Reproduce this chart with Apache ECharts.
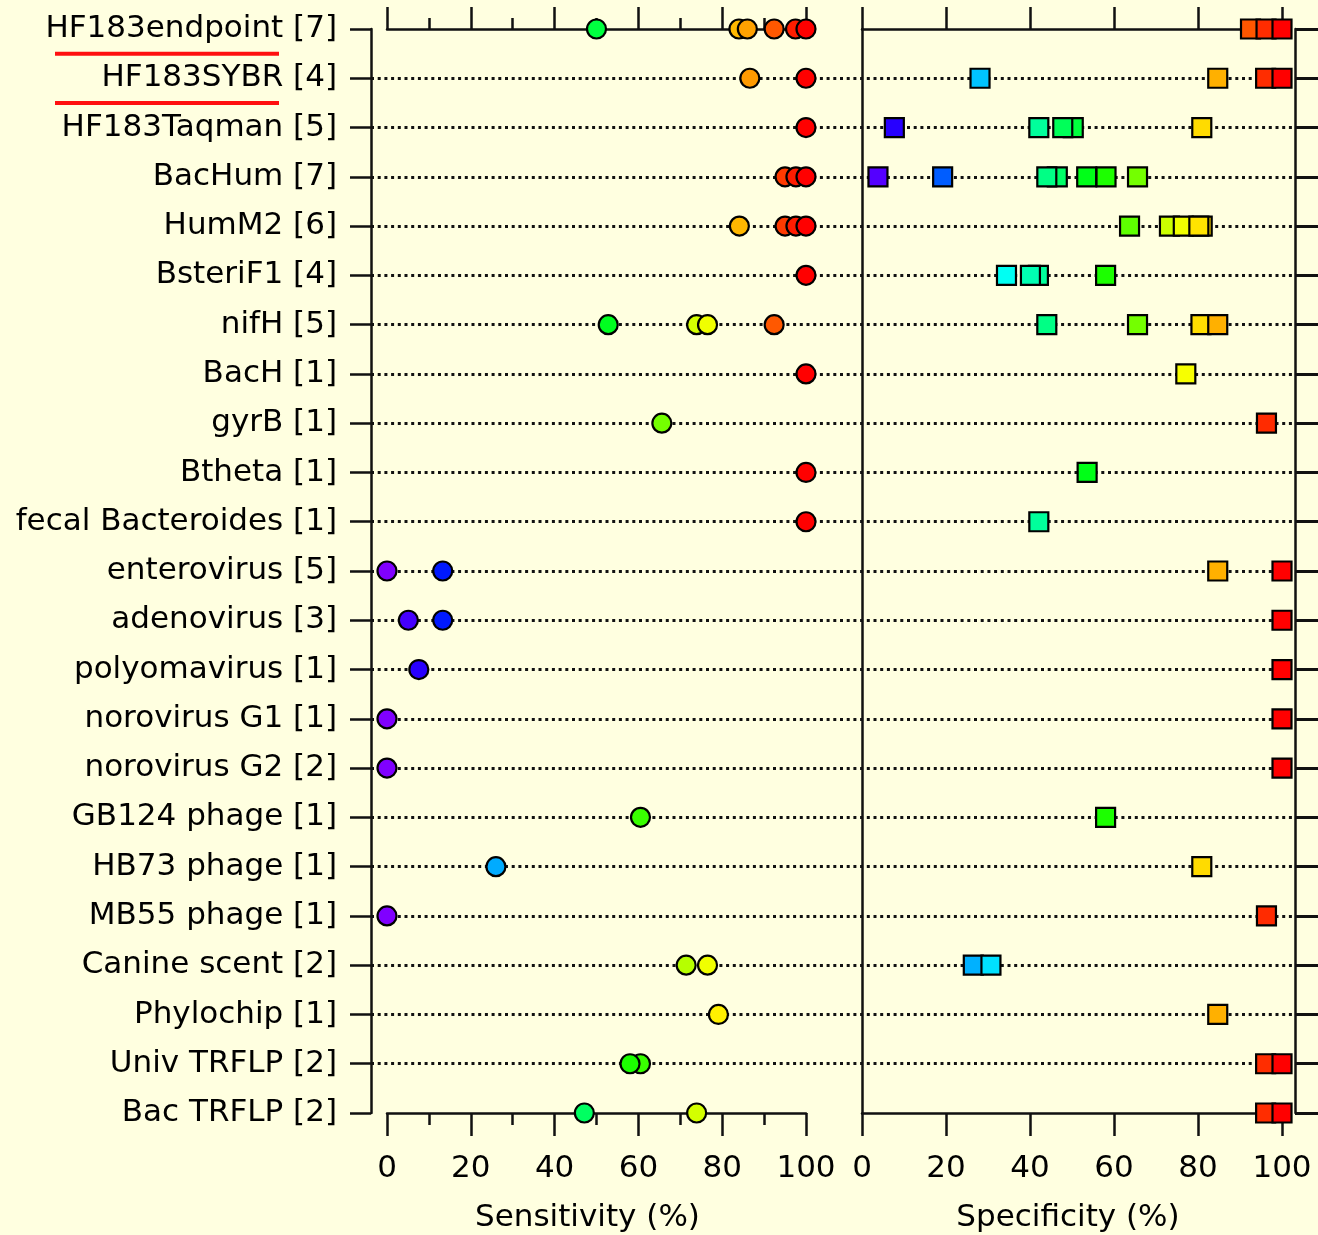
<!DOCTYPE html>
<html><head><meta charset="utf-8">
<script src="https://cdn.jsdelivr.net/npm/echarts@6/dist/echarts.min.js"></script>
<style>html,body{margin:0;padding:0;background:#ffffe0}#c{width:1318px;height:1235px}</style>
</head><body><div id="c"></div>
<script>
const categories = [
  'HF183endpoint [7]', 'HF183SYBR [4]', 'HF183Taqman [5]', 'BacHum [7]', 'HumM2 [6]',
  'BsteriF1 [4]', 'nifH [5]', 'BacH [1]', 'gyrB [1]', 'Btheta [1]', 'fecal Bacteroides [1]',
  'enterovirus [5]', 'adenovirus [3]', 'polyomavirus [1]', 'norovirus G1 [1]', 'norovirus G2 [2]',
  'GB124 phage [1]', 'HB73 phage [1]', 'MB55 phage [1]', 'Canine scent [2]', 'Phylochip [1]',
  'Univ TRFLP [2]', 'Bac TRFLP [2]'
];
// Sensitivity (%) per category (circles)
const sensitivity = [
  [50, 84, 86, 92.4, 97.5, 100],
  [86.6, 100],
  [100],
  [95, 97.6, 100],
  [84.1, 95, 97.6, 100],
  [100],
  [52.8, 73.9, 76.5, 92.4],
  [100],
  [65.6],
  [100],
  [100],
  [0, 13.3],
  [5.1, 13.3],
  [7.6],
  [0],
  [0],
  [60.5],
  [26],
  [0],
  [71.4, 76.5],
  [79.1],
  [60.5, 58],
  [47.1, 73.9]
];
// Specificity (%) per category (squares)
const specificity = [
  [92.5, 96.2, 100],
  [28.1, 84.7, 96.1, 100],
  [7.7, 42.1, 50.3, 47.8, 80.9],
  [3.8, 19.2, 46.5, 44, 53.5, 58.1, 65.6],
  [63.7, 73.2, 76.5, 81, 80.2],
  [34.4, 42, 40.1, 58],
  [44, 65.6, 80.7, 84.7],
  [77.1],
  [96.3],
  [53.6],
  [42.1],
  [84.7, 100],
  [100],
  [100],
  [100],
  [100],
  [58],
  [80.9],
  [96.3],
  [26.5, 30.7],
  [84.7],
  [96.1, 100],
  [96.1, 100]
];
const xTicks = [0, 20, 40, 60, 80, 100];
const underlined = ['HF183endpoint [7]', 'HF183SYBR [4]'];

const FONT = 'DejaVu Sans';
const INK = '#111';
const rainbow = ['#8000ff','#0000ff','#0080ff','#00ffff','#00ff80','#00ff00','#80ff00','#ffff00','#ff8000','#ff0000'];
const axisLineStyle = {color: INK, width: 2.5};

const sensData = categories.flatMap((c, i) => sensitivity[i].map(v => [v, c]));
const specData = categories.flatMap((c, i) => specificity[i].map(v => [v, c]));

const xMin = xTicks[0], xMax = xTicks[xTicks.length - 1], xStep = xTicks[1] - xTicks[0];

function valueAxis(grid, pos, withLabels, minor, name) {
  const top = pos === 'top';
  return {
    gridIndex: grid, type: 'value', position: pos, min: xMin, max: xMax, interval: xStep,
    axisLine: {show: true, onZero: false, lineStyle: axisLineStyle},
    axisTick: {show: true, length: top ? 22 : 23, lineStyle: axisLineStyle},
    minorTick: {show: minor, splitNumber: 2, length: top ? 11 : 12, lineStyle: axisLineStyle},
    splitLine: {show: false}, minorSplitLine: {show: false},
    axisLabel: {show: withLabels, fontSize: 31, fontFamily: FONT, color: '#000', margin: 40},
    name: name || '', nameLocation: 'middle', nameGap: 89,
    nameTextStyle: {fontSize: 31, fontFamily: FONT, color: '#000', padding: grid === 1 ? [0, 18, 0, 0] : [0, 8, 0, 0]}
  };
}

const chart = echarts.init(document.getElementById('c'), null, {renderer: 'canvas'});
chart.setOption({
  backgroundColor: '#ffffe0',
  animation: false,
  textStyle: {fontFamily: FONT},
  grid: [
    {left: 371, right: 23, top: 29, bottom: 122, outerBoundsMode: 'none'},
    {left: 387, right: 512, top: 29, bottom: 122, outerBoundsMode: 'none'},
    {left: 862, right: 36, top: 29, bottom: 122, outerBoundsMode: 'none'}
  ],
  xAxis: [
    {gridIndex: 0, type: 'value', min: 0, max: 1, show: false},
    valueAxis(1, 'bottom', true, true, 'Sensitivity (%)'),
    valueAxis(1, 'top', false, true),
    valueAxis(2, 'bottom', true, false, 'Specificity (%)'),
    valueAxis(2, 'top', false, false)
  ],
  yAxis: [
    {
      gridIndex: 0, type: 'category', data: categories, inverse: true, boundaryGap: false, position: 'left',
      axisLine: {show: true, onZero: false, lineStyle: axisLineStyle},
      axisTick: {show: true, length: 21, interval: 0, lineStyle: {color: INK, width: 2.5}},
      axisLabel: {interval: 0, fontSize: 31, fontFamily: FONT, color: '#000', margin: 34},
      splitLine: {show: true, interval: 0, showMinLine: false, showMaxLine: false,
        lineStyle: {color: INK, width: 3, type: [3, 3.7]}}
    },
    {
      gridIndex: 0, type: 'category', data: categories, inverse: true, boundaryGap: false, position: 'right',
      axisLine: {show: true, onZero: false, lineStyle: axisLineStyle},
      axisTick: {show: true, length: 24, interval: 0, lineStyle: {color: INK, width: 3}},
      axisLabel: {show: false}, splitLine: {show: false}
    },
    {gridIndex: 1, type: 'category', data: categories, inverse: true, boundaryGap: false, show: false},
    {
      gridIndex: 2, type: 'category', data: categories, inverse: true, boundaryGap: false, position: 'left',
      axisLine: {show: true, onZero: false, lineStyle: axisLineStyle},
      axisTick: {show: false}, axisLabel: {show: false}, splitLine: {show: false}
    }
  ],
  visualMap: {
    type: 'continuous', show: false, min: xMin, max: xMax, dimension: 0, seriesIndex: [0, 1],
    inRange: {color: rainbow}
  },
  series: [
    {
      type: 'scatter', xAxisIndex: 1, yAxisIndex: 2, symbol: 'circle', symbolSize: 19, clip: false, z: 5,
      itemStyle: {borderColor: '#000', borderWidth: 2.2, opacity: 1},
      emphasis: {disabled: true}, data: sensData
    },
    {
      type: 'scatter', xAxisIndex: 3, yAxisIndex: 3, symbol: 'rect', symbolSize: 19, clip: false, z: 5,
      itemStyle: {borderColor: '#000', borderWidth: 2.2, opacity: 1},
      emphasis: {disabled: true}, data: specData
    }
  ]
});

// red underlines beneath highlighted labels, midway to the next row
const gfx = underlined.map(name => {
  const i = categories.indexOf(name);
  const y0 = chart.convertToPixel({yAxisIndex: 0}, categories[i]);
  const y1 = chart.convertToPixel({yAxisIndex: 0}, categories[i + 1]);
  const y = (y0 + y1) / 2;
  return {type: 'line', shape: {x1: 55, y1: y, x2: 279, y2: y},
          style: {stroke: '#ff1010', lineWidth: 4}, z: 10};
});
chart.setOption({graphic: gfx});
</script>
</body></html>
